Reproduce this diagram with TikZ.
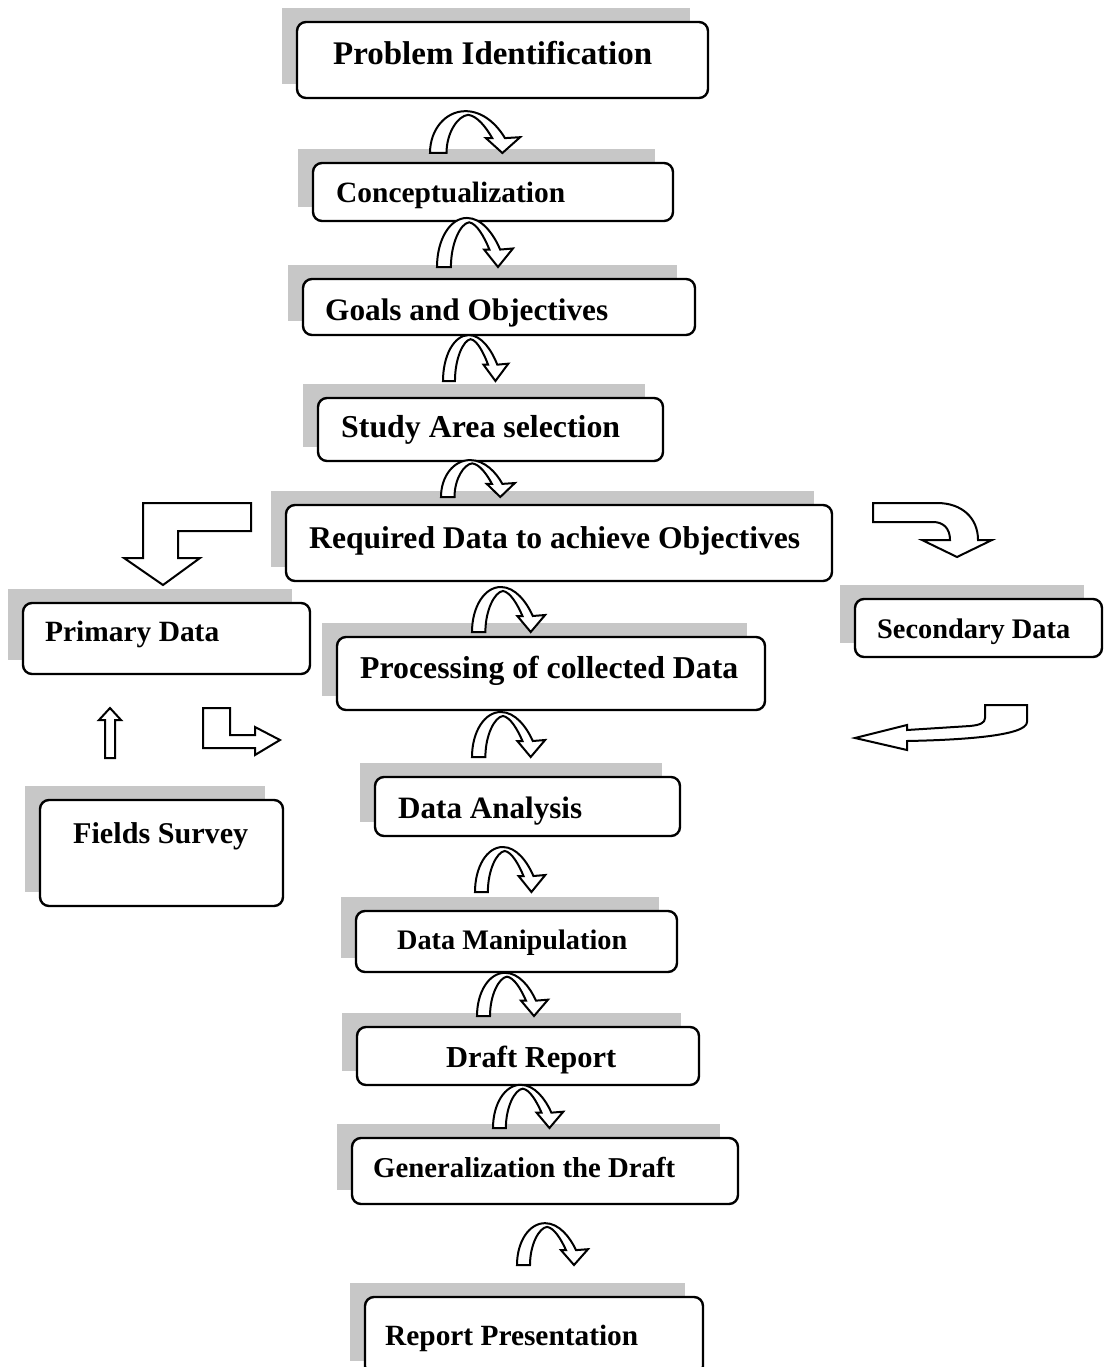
\documentclass[tikz,border=0pt]{standalone}
\usepackage{fontspec}
\setmainfont{Liberation Serif}
\usepackage{graphicx}
\newcommand\fitw[2]{\resizebox{#1pt}{!}{#2}}
\tikzset{
 flowbox/.style={draw=black, line width=2.4pt, rounded corners=9pt, fill=white, inner sep=0pt},
 shadowfill/.style={fill=black!22},
 lbl/.style={inner sep=0pt, anchor=base west, font=\bfseries\fontsize{20}{24}\selectfont},
 blk/.style={draw=black, line width=2pt, fill=white, line join=miter},
 carrow/.pic={\path[blk] (0,0) .. controls (0,-25) and (12,-45) .. (28,-45) .. controls (42,-45) and (53,-30) .. (59,-16) -- (71,-17) -- (57,0) -- (44,-16) -- (49,-16) .. controls (44,-28) and (37,-40) .. (30,-41) .. controls (22,-40) and (13,-22) .. (13,0) -- cycle;}
}
\newcommand\bx[5]{%
 \pgfmathsetmacro\mybw{#4-#2}\pgfmathsetmacro\mybh{#5-#3}%
 \pgfmathsetmacro\mybcx{(#2+#4)/2}\pgfmathsetmacro\mybcy{(#3+#5)/2}%
 \fill[shadowfill] (#2-15,#3-14) rectangle (#4-18,#5-14);
 \node[flowbox, minimum width=\mybw pt, minimum height=\mybh pt] (#1) at (\mybcx,\mybcy) {};}
\begin{document}
\begin{tikzpicture}[x=1pt,y=-1pt]
\useasboundingbox (0,0) rectangle (1104,1367);
\fill[white] (0,0) rectangle (1104,1367);
% boxes
\bx{b1}{297}{22}{708}{98}
\bx{b2}{313}{163}{673}{221}
\bx{b3}{303}{279}{695}{335}
\bx{b4}{318}{398}{663}{461}
\bx{b5}{286}{505}{832}{581}
\bx{b6}{23}{603}{310}{674}
\bx{b7}{855}{599}{1102}{657}
\bx{b8}{337}{637}{765}{710}
\bx{b9}{40}{800}{283}{906}
\bx{b10}{375}{777}{680}{836}
\bx{b11}{356}{911}{677}{972}
\bx{b12}{357}{1027}{699}{1085}
\bx{b13}{352}{1138}{738}{1204}
\bx{b14}{365}{1297}{703}{1375}
% labels
\node[lbl] (t1) at (333,65) {\fitw{319}{Problem Identification}};
\node[lbl] (t2) at (336,203) {\fitw{229}{Conceptualization}};
\node[lbl] (t3) at (325,320) {\fitw{283}{Goals and Objectives}};
\node[lbl] (t4) at (341,437) {\fitw{279}{Study Area selection}};
\node[lbl] (t5) at (309,548) {\fitw{491}{Required Data to achieve Objectives}};
\node[lbl] (t6) at (45,641) {\fitw{174}{Primary Data}};
\node[lbl] (t7) at (877,638) {\fitw{193}{Secondary Data}};
\node[lbl] (t8) at (360,678) {\fitw{378}{Processing of collected Data}};
\node[lbl] (t9) at (73,843) {\fitw{175}{Fields Survey}};
\node[lbl] (t10) at (398,818) {\fitw{184}{Data Analysis}};
\node[lbl] (t11) at (397,949) {\fitw{230}{Data Manipulation}};
\node[lbl] (t12) at (446,1067) {\fitw{170}{Draft Report}};
\node[lbl] (t13) at (373,1177) {\fitw{302}{Generalization the Draft}};
\node[lbl] (t14) at (385,1345) {\fitw{253}{Report Presentation}};
% curved arrows
\pic[xscale=1.27,yscale=0.93] at (430,153) {carrow};
\pic[xscale=1.07,yscale=1.09] at (437,267) {carrow};
\pic[xscale=0.92,yscale=1.02] at (443,381) {carrow};
\pic[xscale=1.04,yscale=0.82] at (441,497) {carrow};
\pic[xscale=1.03,yscale=1.00] at (472,632) {carrow};
\pic[xscale=1.03,yscale=1.00] at (472,757) {carrow};
\pic[xscale=0.99,yscale=1.00] at (475,892) {carrow};
\pic[xscale=1.00,yscale=0.96] at (477,1016) {carrow};
\pic[xscale=0.99,yscale=0.96] at (493,1128) {carrow};
\pic[xscale=1.00,yscale=0.93] at (517,1265) {carrow};
% block arrows
\path[blk] (251,503) -- (143,503) -- (143,558) -- (124,558) -- (163,585) -- (200,558) -- (178,558) -- (178,531) -- (251,531) -- cycle;
\path[blk] (105,758) -- (105,720) -- (99,720) -- (110,708) -- (121,720) -- (115,720) -- (115,758) -- cycle;
\path[blk] (203,708) -- (203,748) -- (255,748) -- (255,755) -- (280,740) -- (255,727) -- (255,735) -- (230,735) -- (230,708) -- cycle;
\path[blk] (873,503) -- (937,503) .. controls (962,503) and (978,518) .. (978,540) -- (992,540) -- (957,557) -- (922,540) -- (950,540) .. controls (950,528) and (943,522) .. (933,522) -- (873,522) -- cycle;
\path[blk] (985,705) -- (1027,705) -- (1027,722) .. controls (1027,736) and (960,740) .. (907,741) -- (907,750) -- (855,738) -- (907,725) -- (907,730) -- (970,726) .. controls (980,725) and (985,723) .. (985,718) -- cycle;
\end{tikzpicture}
\end{document}
